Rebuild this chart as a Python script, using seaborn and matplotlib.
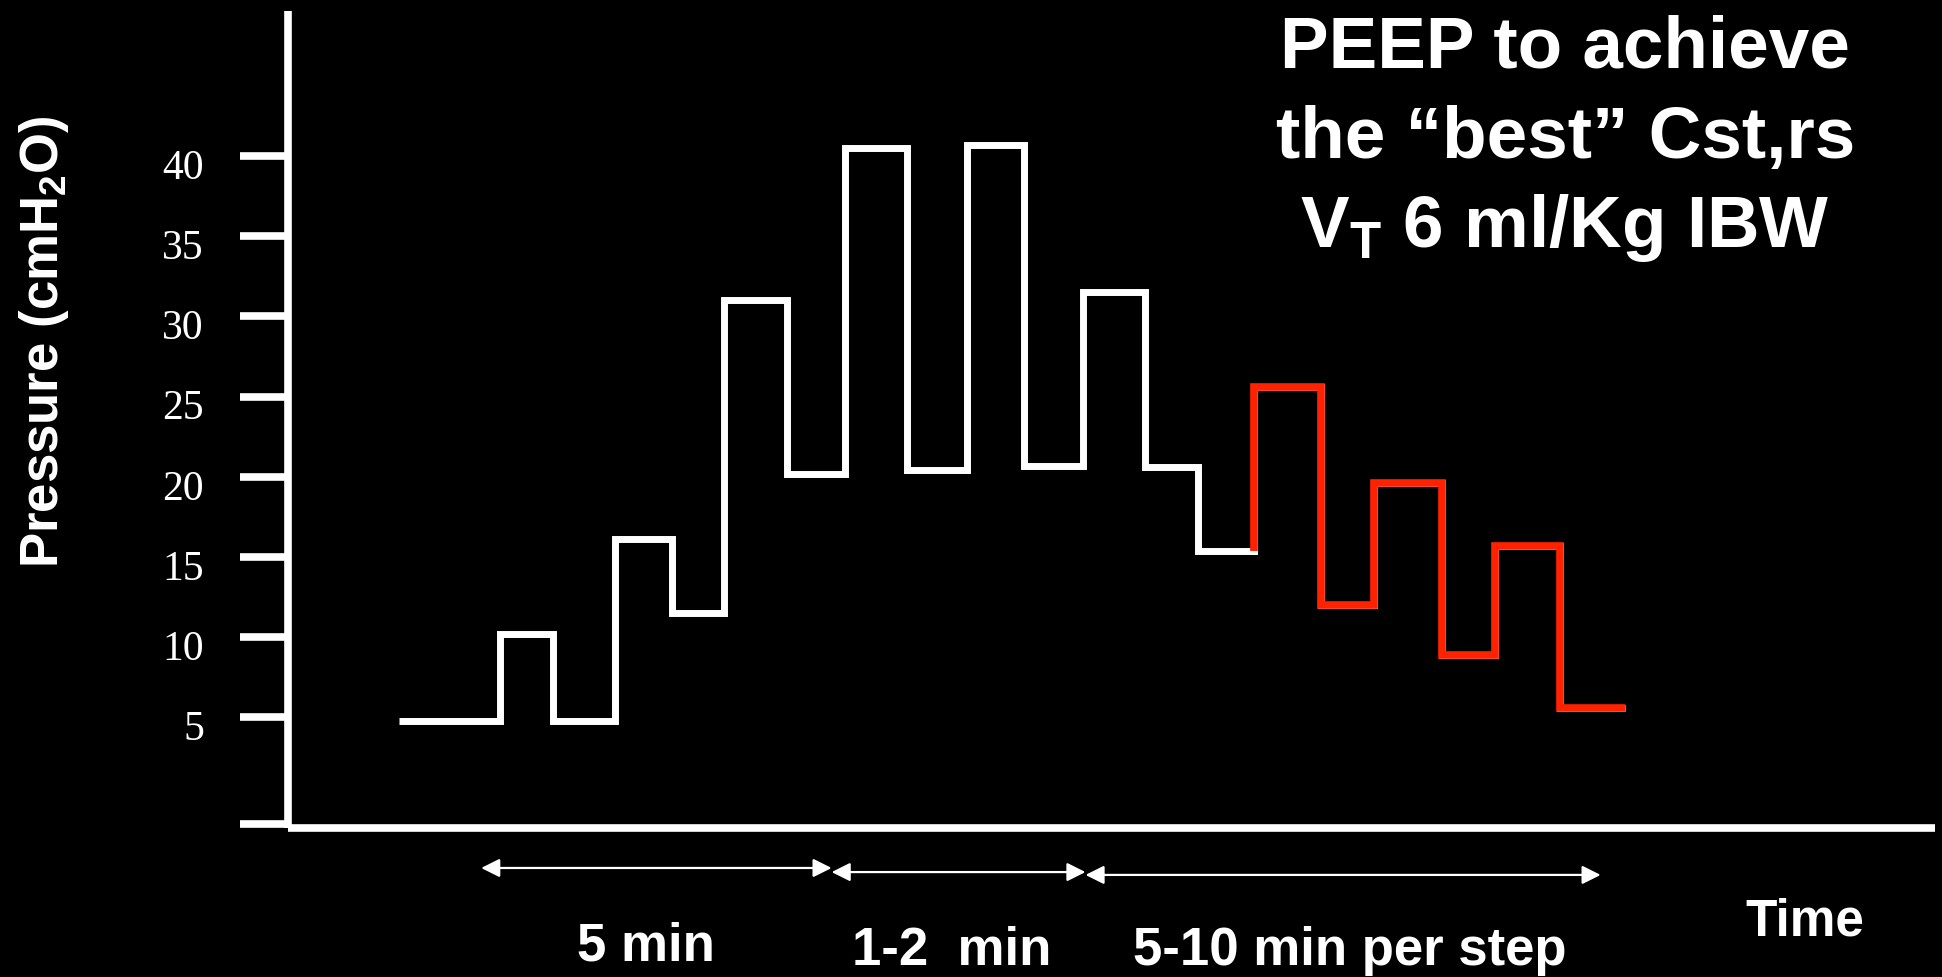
import matplotlib
matplotlib.use("Agg")
import matplotlib.pyplot as plt
import matplotlib.transforms as mtransforms
import pandas as pd
import seaborn as sns

# Airway pressure protocol: recruitment phase (white) followed by
# decremental PEEP titration (red)
step_start = [9.0, 17.1, 21.4, 26.4, 31.0, 35.2, 40.3, 45.0, 50.0, 54.8,
              59.4, 64.2, 69.2, 73.5, 78.0, 83.4, 87.7, 93.2, 97.5, 102.7]
end_time = 108.0
pressure = [4.8, 10.2, 4.8, 16.1, 11.5, 31.0, 20.2, 40.5, 20.4, 40.7,
            20.7, 31.5, 20.6, 15.4, 25.6, 12.0, 19.6, 8.9, 15.7, 5.6]
titration_start = 14          # first step of the decremental titration

y_ticks = [5, 10, 15, 20, 25, 30, 35, 40]
y_ticklabels = ["5", "10", "15", "20", "25", "30", "35", "40"]
y_floor_tick = -1.66

phase_bounds = [15.6, 43.9, 64.4, 106.0]
phase_labels = ["5 min", "1-2  min", "5-10 min per step"]
phase_label_x = [28.9, 53.6, 85.7]

title_lines = ["PEEP to achieve",
               "the \u201cbest\u201d Cst,rs",
               r"V$_\mathbf{T}$ 6 ml/Kg IBW"]

sns.set_theme(style="ticks", rc={
    "figure.facecolor": "black",
    "axes.facecolor": "black",
    "axes.edgecolor": "white",
    "xtick.color": "white",
    "ytick.color": "white",
    "text.color": "white",
    "axes.labelcolor": "white",
})
plt.rcParams["font.family"] = ["Liberation Sans", "DejaVu Sans"]
plt.rcParams["mathtext.fontset"] = "custom"
plt.rcParams["mathtext.rm"] = "Liberation Sans"
plt.rcParams["mathtext.bf"] = "Liberation Sans:bold"
plt.rcParams["mathtext.it"] = "Liberation Sans:italic"

fig = plt.figure(figsize=(19.42, 9.78), dpi=100, facecolor="black")
ax = fig.add_axes([0.1483, 0.1524, 0.8481, 0.8353])
ax.set_facecolor("black")

times = step_start + [end_time]
levels = pressure + [pressure[-1]]
trace = pd.DataFrame({"time": times, "pressure": levels})

sns.lineplot(data=trace, x="time", y="pressure", ax=ax, color="white",
             linewidth=5.0, drawstyle="steps-post", estimator=None,
             sort=False, solid_joinstyle="miter", solid_capstyle="butt")

k = titration_start
titration = pd.DataFrame({
    "time": [times[k]] + times[k:],
    "pressure": [levels[k - 1]] + levels[k:],
})
sns.lineplot(data=titration, x="time", y="pressure", ax=ax, color="#FF2200",
             linewidth=5.5, drawstyle="steps-post", estimator=None,
             sort=False, solid_joinstyle="miter", solid_capstyle="butt")

ax.set_xlim(0, 133)
ax.set_ylim(-1.9, 49.05)

for side in ("top", "right"):
    ax.spines[side].set_visible(False)
for side in ("left", "bottom"):
    ax.spines[side].set_color("white")
    ax.spines[side].set_linewidth(5.5)
    ax.spines[side].set_capstyle("butt")

ax.set_xticks([])
ax.set_yticks([y_floor_tick] + y_ticks)
ax.set_yticklabels([""] + y_ticklabels, fontfamily="Liberation Serif",
                   fontsize=30, color="white")
ax.tick_params(axis="y", direction="out", length=34.5, width=5.5, pad=26,
               colors="white")

ax.set_ylabel(r"Pressure (cmH$_\mathbf{2}$O)", fontsize=38,
              fontweight="bold", color="white", va="center")
ax.yaxis.set_label_coords(-0.148, 0.597)
ax.set_xlabel("Time", fontsize=37, fontweight="bold", color="white",
              va="baseline")
ax.xaxis.set_label_coords(0.921, -0.13)

# phase duration arrows beneath the time axis
blend = mtransforms.blended_transform_factory(ax.transData, ax.transAxes)
arrow_y = [-0.049, -0.054, -0.0575]
label_y = [-0.161, -0.167, -0.167]
for i, label in enumerate(phase_labels):
    x0, x1 = phase_bounds[i], phase_bounds[i + 1]
    ax.annotate("", xy=(x1, arrow_y[i]), xytext=(x0, arrow_y[i]),
                xycoords=blend, textcoords=blend, annotation_clip=False,
                arrowprops=dict(arrowstyle="<|-|>", color="white", lw=1.6,
                                mutation_scale=28, shrinkA=0, shrinkB=0))
    ax.text(phase_label_x[i], label_y[i], label, transform=blend,
            ha="center", va="baseline", fontsize=38, fontweight="bold",
            color="white", clip_on=False)

for line, yb in zip(title_lines, [0.9305, 0.8384, 0.7474]):
    fig.text(0.806, yb, line, ha="center", va="baseline", fontsize=52.5,
             fontweight="bold", color="white")

# nudge the serif tick numbers slightly below their ticks
shift = mtransforms.ScaledTranslation(0, -7 / 100, fig.dpi_scale_trans)
for lbl in ax.get_yticklabels():
    lbl.set_transform(lbl.get_transform() + shift)

fig.savefig("out.png", dpi=100, facecolor="black")
